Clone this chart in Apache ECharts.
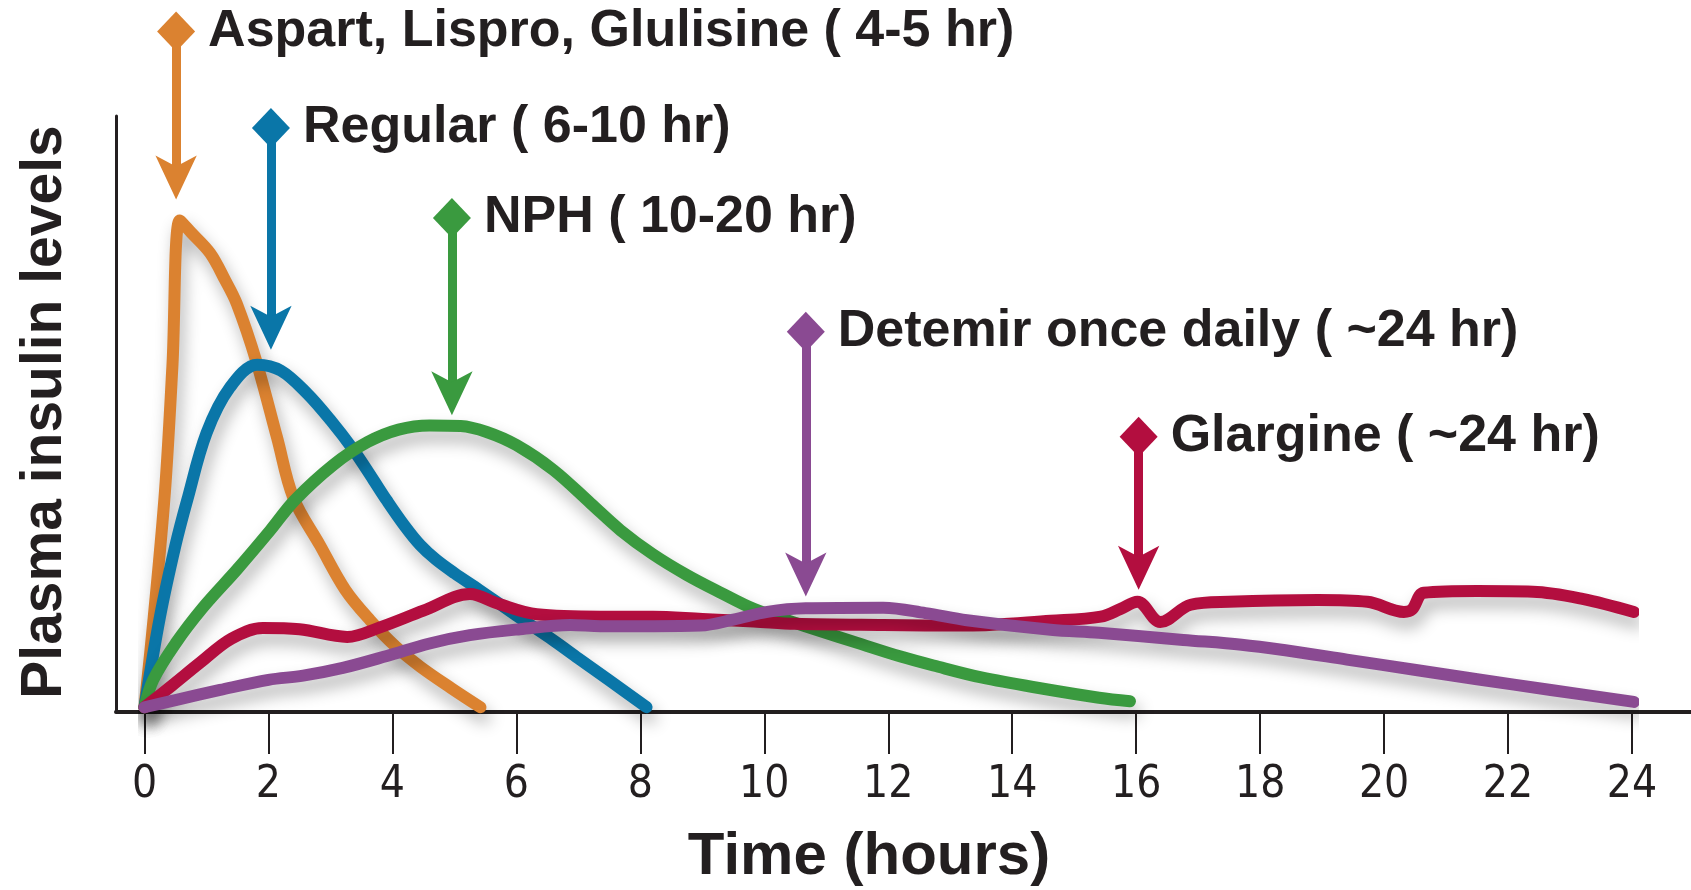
<!DOCTYPE html>
<html>
<head>
<meta charset="utf-8">
<title>Insulin action profiles</title>
<script src="https://cdn.jsdelivr.net/npm/echarts@6/dist/echarts.min.js"></script>
<style>
  html, body { margin: 0; padding: 0; background: #fff; }
  #chart { width: 1691px; height: 890px; }
</style>
</head>
<body>
<div id="chart"></div>
<script>
// [hours, plasma level] - level is relative, 100 = top of the y axis line
const aspart = [[0, 0.8], [0.15, 16], [0.33, 37], [0.45, 58], [0.57, 82.5], [0.75, 80.5], [1.06, 77], [1.3, 72.5],
  [1.49, 68.5], [1.8, 59], [2.14, 46], [2.4, 36], [2.83, 28], [3.24, 20.5], [3.64, 15.4], [4.05, 11], [4.45, 7.6],
  [4.95, 4], [5.42, 0.8]];
const regular = [[0, 0.8], [0.25, 16], [0.5, 28], [0.69, 35.6], [1.0, 46.8], [1.38, 54.5], [1.82, 58.3], [2.2, 57.3],
  [2.62, 53.5], [3.0, 49], [3.37, 44], [3.69, 39], [3.91, 35.5], [4.2, 31.2], [4.45, 28], [4.7, 25.6], [5.0, 23.3],
  [5.4, 20.5], [6.0, 16.2], [6.6, 12], [7.0, 9], [7.5, 5.3], [8.1, 0.8]];
const nph = [[0, 0.8], [0.14, 5.4], [0.5, 11.5], [0.94, 17.5], [1.5, 24], [2.03, 30.5], [2.42, 35.5], [3.05, 41.5],
  [3.6, 45.3], [4.1, 47.4], [4.6, 48.1], [5.1, 48], [5.52, 47], [6.0, 44.8], [6.6, 40.6], [7.2, 35], [7.68, 30.5],
  [8.2, 26.5], [8.75, 23], [9.3, 20], [9.83, 17.3], [10.4, 15.3], [10.9, 13.6], [11.5, 11.6], [12.2, 9.3],
  [12.73, 7.8], [13.5, 5.8], [14.5, 3.9], [15.4, 2.4], [15.9, 1.8]];
const glargine = [[0, 0.8], [0.45, 4.5], [0.9, 8.3], [1.4, 12.3], [1.91, 14.1], [2.5, 13.9], [3.27, 12.6], [3.8, 14.2],
  [4.5, 17], [5.25, 19.8], [5.7, 18.2], [6.33, 16.4], [7.36, 16], [8.2, 16], [9.0, 15.6], [9.83, 15.2], [10.5, 14.8],
  [11.92, 14.6], [13.27, 14.5], [14.62, 15.3], [15.43, 16], [15.75, 17.3], [16.02, 18.5], [16.39, 15.1], [16.88, 18],
  [17.5, 18.5], [18.93, 18.8], [19.73, 18.5], [20.32, 16.8], [20.45, 17.2], [20.64, 20], [21.5, 20.3], [22.4, 20.2],
  [23.2, 19], [24.03, 16.8]];
const detemir = [[0, 0.8], [0.5, 2], [1.22, 3.7], [2.0, 5.4], [2.56, 6.1], [3.2, 7.4], [3.91, 9.4], [4.6, 11.5],
  [5.25, 12.9], [6.06, 13.9], [6.87, 14.6], [7.36, 14.4], [8.2, 14.4], [8.97, 14.5], [9.5, 15.5], [10.05, 16.8],
  [10.67, 17.4], [11.92, 17.5], [12.6, 16.6], [13.27, 15.4], [14.62, 13.8], [15.4, 13.3], [16.76, 12.1], [17.7, 11.3],
  [18.38, 10.4], [19.4, 8.8], [20.54, 7], [21.5, 5.5], [22.69, 3.7], [24.03, 1.7]];

const seriesData = [aspart, regular, nph, glargine, detemir];
const labels = ["Aspart, Lispro, Glulisine ( 4-5 hr)", "Regular ( 6-10 hr)", "NPH ( 10-20 hr)",
  "Glargine ( ~24 hr)", "Detemir once daily ( ~24 hr)"];
const colors = ["#db8230", "#0a76a8", "#3a9a3f", "#b30e3f", "#8a4a92"];

// annotation arrows: x position, diamond level, arrow tip level
const arrowX = [0.51, 2.04, 4.96, 16.04, 10.67];
const arrowTop = [114.2, 98, 82.9, 46.2, 63.8];
const arrowTip = [86, 60.8, 49.8, 20.5, 19.4];

const xMin = 0, xMax = 24, xStep = 2;
const yMax = 119.5;

const W = 1691, H = 890;
const plotBottom = 178;
const pxPerUnit = (H - plotBottom) / yMax;
const arrowW = 31, arrowH = 44;
const textColor = "#231f20";
const font = "'Liberation Sans', Arial, sans-serif";

const chart = echarts.init(document.getElementById("chart"));

const series = seriesData.map((data, i) => {
  // the arrow symbol has its tip on the coord; stop the shaft inside the head
  const shaftEnd = arrowTip[i] + arrowH / 2 / pxPerUnit;
  return {
    name: labels[i],
    type: "line",
    data: data,
    smooth: 0.35,
    symbol: "none",
    clip: false,
    z: 3 + i,
    lineStyle: {
      color: colors[i],
      width: 12,
      cap: "round",
      join: "round",
      shadowColor: "rgba(0,0,0,0.3)",
      shadowBlur: 16,
      shadowOffsetX: 4,
      shadowOffsetY: 10
    },
    itemStyle: { color: colors[i] },
    markLine: {
      silent: true,
      symbol: ["none", "none"],
      label: { show: false },
      lineStyle: { color: colors[i], width: 9, type: "solid" },
      data: [[{ coord: [arrowX[i], arrowTop[i]] }, { coord: [arrowX[i], shaftEnd] }]]
    },
    markPoint: {
      silent: true,
      itemStyle: { color: colors[i] },
      label: {
        show: true,
        position: "right",
        distance: 13,
        formatter: labels[i],
        color: textColor,
        fontSize: 52,
        fontWeight: "bold",
        fontFamily: font
      },
      data: [
        { coord: [arrowX[i], arrowTop[i]], symbol: "diamond", symbolSize: [38, 40] },
        { coord: [arrowX[i], arrowTip[i]], symbol: "arrow", symbolSize: [arrowW, arrowH], symbolRotate: 180, label: { show: false } }
      ]
    }
  };
});

const option = {
  animation: false,
  backgroundColor: "#fff",
  grid: [
    { left: 144.5, right: W - 1632, top: 0, bottom: plotBottom },
    { left: 116, right: 0, top: 116, bottom: plotBottom }
  ],
  xAxis: [
    {
      type: "value", gridIndex: 0, min: xMin, max: xMax, interval: xStep,
      axisLine: { show: false },
      axisTick: { show: true, length: 42, lineStyle: { color: textColor, width: 2 } },
      axisLabel: { margin: 52, color: textColor, fontSize: 44, fontFamily: "'Liberation Sans Narrow', 'DejaVu Sans Condensed', sans-serif" },
      splitLine: { show: false }
    },
    {
      type: "value", gridIndex: 1, min: 0, max: 1,
      axisLine: { show: true, lineStyle: { color: textColor, width: 4 } },
      axisTick: { show: false }, axisLabel: { show: false }, splitLine: { show: false }
    }
  ],
  yAxis: [
    { type: "value", gridIndex: 0, min: 0, max: yMax, show: false },
    {
      type: "value", gridIndex: 1, min: 0, max: 1,
      axisLine: { show: true, lineStyle: { color: textColor, width: 3 } },
      axisTick: { show: false }, axisLabel: { show: false }, splitLine: { show: false }
    }
  ],
  graphic: [
    {
      type: "text", x: 869, y: 857,
      style: { text: "Time (hours)", fill: textColor, font: "bold 60px " + font, textAlign: "center", textVerticalAlign: "middle" }
    },
    {
      type: "text", x: 45, y: 412, rotation: Math.PI / 2,
      style: { text: "Plasma insulin levels", fill: textColor, font: "bold 57px " + font, textAlign: "center", textVerticalAlign: "middle" }
    }
  ],
  series: series
};

chart.setOption(option);
window.addEventListener("resize", chart.resize);
</script>
</body>
</html>
